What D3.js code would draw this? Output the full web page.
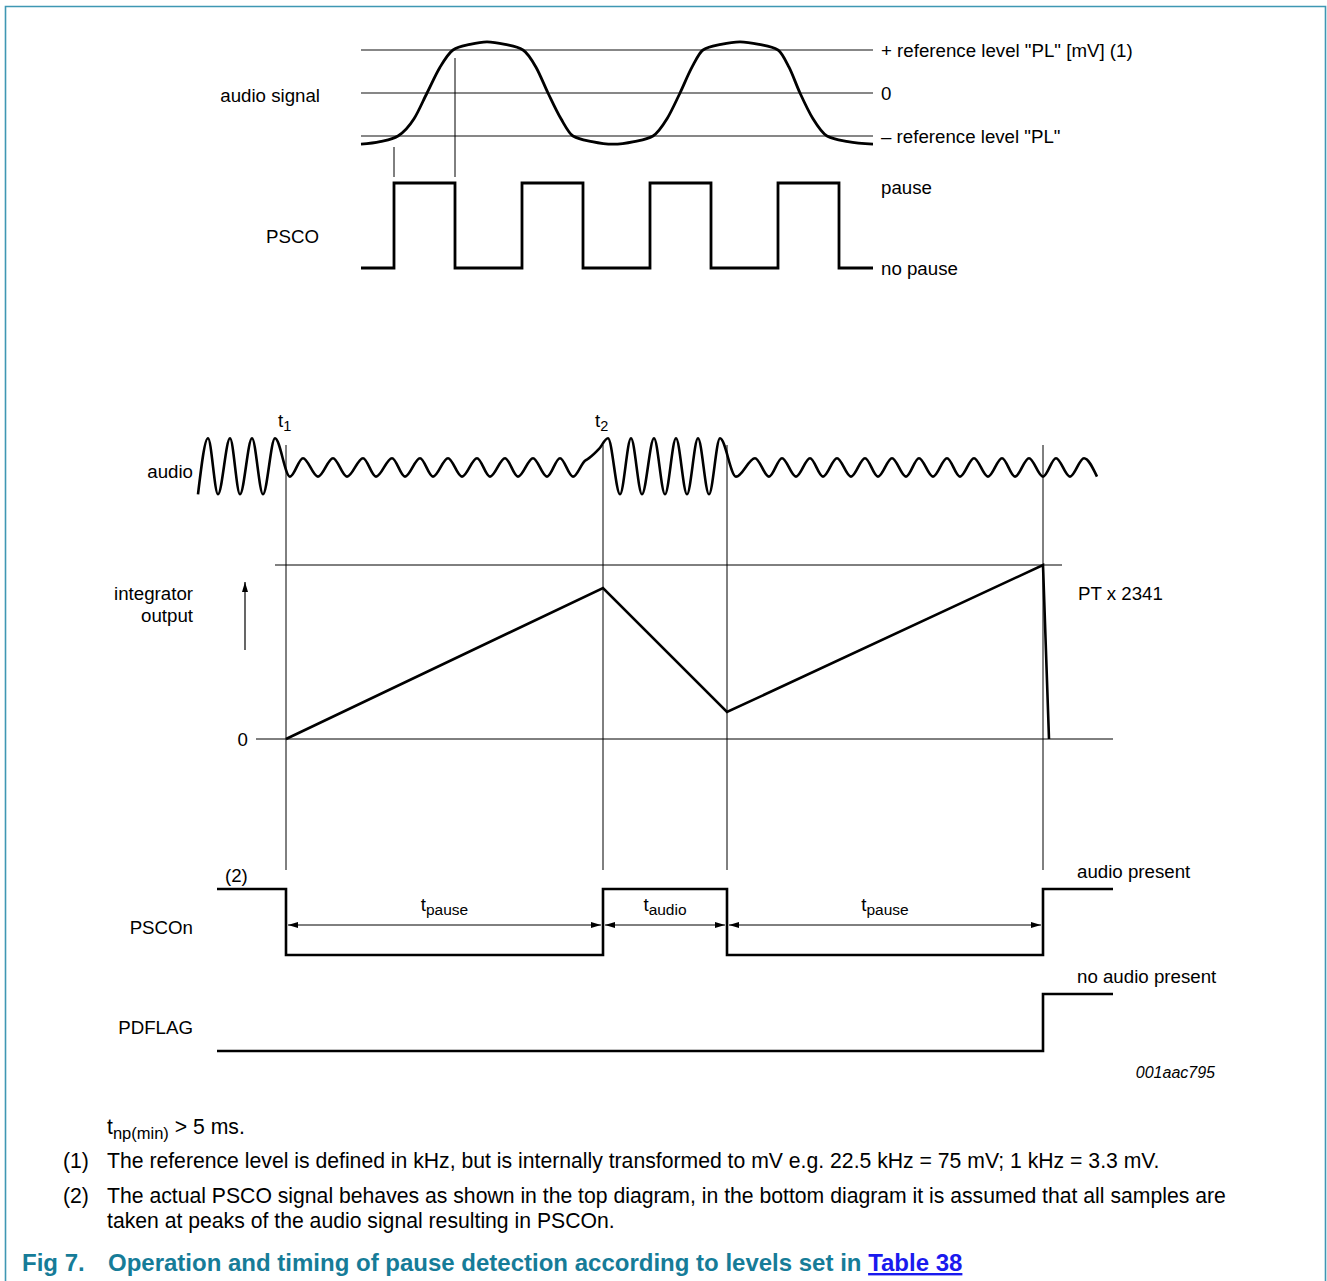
<!DOCTYPE html>
<html>
<head>
<meta charset="utf-8">
<script src="https://cdn.jsdelivr.net/npm/d3@7"></script>
<style>
  body { margin: 0; background: #fff; }
  svg text { font-family: "Liberation Sans", Arial, sans-serif; fill: #000; }
</style>
</head>
<body>
<svg width="1327" height="1281"></svg>
<script>
// ---- data ----

// top diagram: audio signal, time in arbitrary units, level in units of "PL"
var topTime = [0, 19, 37, 53, 66, 79, 92, 109, 126, 144, 162, 175, 187, 200, 212, 231, 252,
  273, 292, 306, 319, 331, 342, 360, 379, 398, 417, 428, 439, 452, 466, 487, 512];
var topLevel = [-1.19, -1.13, -1.0, -0.6, 0, 0.6, 1.0, 1.13, 1.19, 1.13, 1.0, 0.6, 0, -0.6, -1.0, -1.13, -1.19,
  -1.13, -1.0, -0.6, 0, 0.6, 1.0, 1.13, 1.19, 1.13, 1.0, 0.6, 0, -0.6, -1.0, -1.13, -1.19];
var refLevels = [1, 0, -1];
var refLabels = ["+ reference level \"PL\" [mV] (1)", "0", "\u2013 reference level \"PL\""];
var sampleTimes = [33, 94];

// top diagram: PSCO
var pscoTime = [0, 33, 94, 161, 222, 289, 350, 417, 478, 512];
var pscoLevel = [0, 1, 0, 1, 0, 1, 0, 1, 0, 0];
var pscoLabels = ["pause", "no pause"];

// bottom diagram: events t1, t2, ...
var eventTimes = [0, 317, 441, 757];
var eventNames = ["1", "2", "", ""];

// bottom diagram: audio (large = 1, small wave ~0.3)
var audioTime = [-88, -78, -68, -56, -46, -34, -23, -11,
  4, 17, 32, 47, 61, 77, 90, 106, 119, 134, 147, 162, 176, 191, 204, 219, 232, 247, 261, 274, 287,
  299, 303, 313,
  322, 334, 345, 356, 368, 379, 390, 401, 412, 423, 434,
  450, 469, 483, 496, 510, 524, 537, 551, 565, 579, 592, 606, 620, 633, 647, 661, 674, 688, 702, 716,
  729, 743, 757, 770, 784, 798, 811];
var audioLevel = [-1, 1, -1, 1, -1, 1, -1, 1,
  -0.37, 0.29, -0.37, 0.29, -0.37, 0.29, -0.37, 0.29, -0.37, 0.29, -0.37, 0.29, -0.37, 0.29, -0.37, 0.29, -0.37, 0.29, -0.37, 0.29, -0.37,
  0.2, 0.29, 0.62,
  1, -1, 1, -1, 1, -1, 1, -1, 1, -1, 1,
  -0.37, 0.29, -0.37, 0.29, -0.37, 0.29, -0.37, 0.29, -0.37, 0.29, -0.37, 0.29, -0.37, 0.29, -0.37, 0.29, -0.37, 0.29, -0.37, 0.29,
  -0.37, 0.29, -0.37, 0.29, -0.37, 0.29, -0.37];

// integrator output (1 = PT x 2341)
var integTime = [0, 317, 441, 757, 763];
var integLevel = [0, 0.868, 0.155, 1, 0];

// PSCOn and PDFLAG
var psconTime = [-69, 0, 317, 441, 757, 827];
var psconLevel = [1, 0, 1, 0, 1, 1];
var pdflagTime = [-69, 757, 827];
var pdflagLevel = [0, 1, 1];

// durations between the events
var spanStart = [0, 317, 441];
var spanEnd = [317, 441, 757];
var spanSub = ["pause", "audio", "pause"];

var notes = [
  "The reference level is defined in kHz, but is internally transformed to mV e.g. 22.5 kHz = 75 mV; 1 kHz = 3.3 mV.",
  "The actual PSCO signal behaves as shown in the top diagram, in the bottom diagram it is assumed that all samples are",
  "taken at peaks of the audio signal resulting in PSCOn."
];

var fs = 18.7;   // letters in de figuur
var fsNote = 21.2;

// ---- drawing ----
var svg = d3.select("svg");

// rand om de figuur
svg.append("path")
  .attr("d", "M5.5,1281V6.5H1325.5V1281")
  .attr("fill", "none")
  .attr("stroke", "#3f97b3")
  .attr("stroke-width", 1.6);

var defs = svg.append("defs");
defs.append("marker")
  .attr("id", "head")
  .attr("viewBox", "0 0 10 6")
  .attr("refX", 10).attr("refY", 3)
  .attr("markerWidth", 10).attr("markerHeight", 6)
  .attr("markerUnits", "userSpaceOnUse")
  .attr("orient", "auto-start-reverse")
  .append("path")
  .attr("d", "M0,0L10,3L0,6Z")
  .attr("fill", "#000");

// top scales
var xTop = d3.scaleLinear().domain([0, 512]).range([361, 873]);
var ySig = d3.scaleLinear().domain([-1, 1]).range([136, 50]);
var yPsco = d3.scaleLinear().domain([0, 1]).range([268, 183]);

var gTop = svg.append("g");

gTop.selectAll("line.ref")
  .data(refLevels)
  .enter().append("line")
  .attr("x1", xTop(0)).attr("x2", xTop(512))
  .attr("y1", function (d) { return ySig(d); })
  .attr("y2", function (d) { return ySig(d); })
  .attr("stroke", "#111").attr("stroke-width", 1.2);

gTop.selectAll("text.ref")
  .data(refLevels)
  .enter().append("text")
  .attr("x", 881)
  .attr("y", function (d) { return ySig(d) + 6.5; })
  .attr("font-size", fs)
  .text(function (d, i) { return refLabels[i]; });

var sigLine = d3.line()
  .x(function (d, i) { return xTop(topTime[i]); })
  .y(function (d) { return ySig(d); })
  .curve(d3.curveMonotoneX);

gTop.append("path")
  .attr("d", sigLine(topLevel))
  .attr("fill", "none")
  .attr("stroke", "#000")
  .attr("stroke-width", 2.8);

// sample moments
gTop.selectAll("line.sample")
  .data(sampleTimes)
  .enter().append("line")
  .attr("x1", function (d) { return xTop(d); })
  .attr("x2", function (d) { return xTop(d); })
  .attr("y1", function (d, i) { return i === 0 ? 147 : 58; })
  .attr("y2", 177)
  .attr("stroke", "#000").attr("stroke-width", 1);

var pscoLine = d3.line()
  .x(function (d, i) { return xTop(pscoTime[i]); })
  .y(function (d) { return yPsco(d); })
  .curve(d3.curveStepAfter);

gTop.append("path")
  .attr("d", pscoLine(pscoLevel))
  .attr("fill", "none")
  .attr("stroke", "#000")
  .attr("stroke-width", 2.8);

gTop.append("text").attr("x", 320).attr("y", 101.5).attr("text-anchor", "end")
  .attr("font-size", fs).text("audio signal");
gTop.append("text").attr("x", 319).attr("y", 242.5).attr("text-anchor", "end")
  .attr("font-size", fs).text("PSCO");
gTop.selectAll("text.psco")
  .data(pscoLabels)
  .enter().append("text")
  .attr("x", 881)
  .attr("y", function (d, i) { return yPsco(1 - i) + (i === 0 ? 11 : 6.5); })
  .attr("font-size", fs)
  .text(function (d) { return d; });

// bottom scales
var x = d3.scaleLinear().domain([-69, 827]).range([217, 1113]);
var yAudio = d3.scaleLinear().domain([-1, 1]).range([494.3, 438.3]);
var yInteg = d3.scaleLinear().domain([0, 1]).range([739, 565]);
var yPscon = d3.scaleLinear().domain([0, 1]).range([955, 889]);
var yFlag = d3.scaleLinear().domain([0, 1]).range([1051, 994]);

var g = svg.append("g");

// event lines
g.selectAll("line.event")
  .data(eventTimes)
  .enter().append("line")
  .attr("x1", function (d) { return x(d); })
  .attr("x2", function (d) { return x(d); })
  .attr("y1", 445).attr("y2", 870)
  .attr("stroke", "#000").attr("stroke-width", 1);

var evLabel = g.selectAll("text.event")
  .data(eventTimes.filter(function (d, i) { return eventNames[i] !== ""; }))
  .enter().append("text")
  .attr("x", function (d) { return x(d) - 8; })
  .attr("y", 427)
  .attr("font-size", fs);
evLabel.append("tspan").text("t");
evLabel.append("tspan").attr("dy", 4).attr("font-size", 14.5)
  .text(function (d, i) { return eventNames[i]; });

// audio
var audioLine = d3.line()
  .x(function (d, i) { return x(audioTime[i]); })
  .y(function (d) { return yAudio(d); })
  .curve(d3.curveMonotoneX);

g.append("path")
  .attr("d", audioLine(audioLevel))
  .attr("fill", "none")
  .attr("stroke", "#000")
  .attr("stroke-width", 2.6);

g.append("text").attr("x", 193).attr("y", 477.5).attr("text-anchor", "end")
  .attr("font-size", fs).text("audio");

// integrator
g.append("line")
  .attr("x1", x(-30)).attr("x2", x(827))
  .attr("y1", yInteg(0)).attr("y2", yInteg(0))
  .attr("stroke", "#000").attr("stroke-width", 1);
g.append("line")
  .attr("x1", x(-11)).attr("x2", x(776))
  .attr("y1", yInteg(1)).attr("y2", yInteg(1))
  .attr("stroke", "#000").attr("stroke-width", 1);

var integLine = d3.line()
  .x(function (d, i) { return x(integTime[i]); })
  .y(function (d) { return yInteg(d); });

g.append("path")
  .attr("d", integLine(integLevel))
  .attr("fill", "none")
  .attr("stroke", "#000")
  .attr("stroke-width", 2.6);

// pijltje naar boven
g.append("line")
  .attr("x1", 245).attr("x2", 245)
  .attr("y1", 650).attr("y2", 582)
  .attr("stroke", "#000").attr("stroke-width", 1.2)
  .attr("marker-end", "url(#head)");

g.append("text").attr("x", 193).attr("y", 600).attr("text-anchor", "end")
  .attr("font-size", fs).text("integrator");
g.append("text").attr("x", 193).attr("y", 622).attr("text-anchor", "end")
  .attr("font-size", fs).text("output");
g.append("text").attr("x", 248).attr("y", yInteg(0) + 6.5).attr("text-anchor", "end")
  .attr("font-size", fs).text("0");
g.append("text").attr("x", 1078).attr("y", 600)
  .attr("font-size", fs).text("PT x 2341");

// PSCOn
var psconLine = d3.line()
  .x(function (d, i) { return x(psconTime[i]); })
  .y(function (d) { return yPscon(d); })
  .curve(d3.curveStepAfter);

g.append("path")
  .attr("d", psconLine(psconLevel))
  .attr("fill", "none")
  .attr("stroke", "#000")
  .attr("stroke-width", 2.6);

g.selectAll("line.span")
  .data(spanStart)
  .enter().append("line")
  .attr("x1", function (d) { return x(d) + 2; })
  .attr("x2", function (d, i) { return x(spanEnd[i]) - 2; })
  .attr("y1", 925).attr("y2", 925)
  .attr("stroke", "#000").attr("stroke-width", 1)
  .attr("marker-start", "url(#head)")
  .attr("marker-end", "url(#head)");

var spanText = g.selectAll("text.span")
  .data(spanStart)
  .enter().append("text")
  .attr("x", function (d, i) { return (x(d) + x(spanEnd[i])) / 2; })
  .attr("y", 911)
  .attr("text-anchor", "middle")
  .attr("font-size", fs);
spanText.append("tspan").text("t");
spanText.append("tspan").attr("dy", 4).attr("font-size", 15.5)
  .text(function (d, i) { return spanSub[i]; });

g.append("text").attr("x", 225).attr("y", 882).attr("font-size", fs).text("(2)");
g.append("text").attr("x", 193).attr("y", 933.5).attr("text-anchor", "end")
  .attr("font-size", fs).text("PSCOn");
g.append("text").attr("x", 1077).attr("y", 877.5).attr("font-size", fs).text("audio present");

// PDFLAG
var flagLine = d3.line()
  .x(function (d, i) { return x(pdflagTime[i]); })
  .y(function (d) { return yFlag(d); })
  .curve(d3.curveStepAfter);

g.append("path")
  .attr("d", flagLine(pdflagLevel))
  .attr("fill", "none")
  .attr("stroke", "#000")
  .attr("stroke-width", 2.6);

g.append("text").attr("x", 1077).attr("y", 982.5).attr("font-size", fs).text("no audio present");
g.append("text").attr("x", 193).attr("y", 1033.5).attr("text-anchor", "end")
  .attr("font-size", fs).text("PDFLAG");

g.append("text").attr("x", 1215).attr("y", 1078).attr("text-anchor", "end")
  .attr("font-size", 16).attr("font-style", "italic").text("001aac795");

// voetnoten
var tnp = svg.append("text").attr("x", 107).attr("y", 1134).attr("font-size", fsNote);
tnp.append("tspan").text("t");
tnp.append("tspan").attr("dy", 5).attr("font-size", 16.5).text("np(min)");
tnp.append("tspan").attr("dy", -5).text(" > 5 ms.");

svg.append("text").attr("x", 63).attr("y", 1168).attr("font-size", fsNote).text("(1)");
svg.append("text").attr("x", 107).attr("y", 1168).attr("font-size", fsNote).text(notes[0]);
svg.append("text").attr("x", 63).attr("y", 1203).attr("font-size", fsNote).text("(2)");
svg.append("text").attr("x", 107).attr("y", 1203).attr("font-size", fsNote).text(notes[1]);
svg.append("text").attr("x", 107).attr("y", 1228).attr("font-size", fsNote).text(notes[2]);

// onderschrift
svg.append("text").attr("x", 22).attr("y", 1271)
  .attr("font-size", 24).attr("font-weight", "bold")
  .style("fill", "#167c98").text("Fig 7.");
var cap = svg.append("text").attr("x", 108).attr("y", 1271)
  .attr("font-size", 24).attr("font-weight", "bold")
  .style("fill", "#167c98");
cap.append("tspan").text("Operation and timing of pause detection according to levels set in ");
cap.append("tspan").style("fill", "#1a1aee")
  .attr("text-decoration", "underline").text("Table 38");
</script>
</body>
</html>
